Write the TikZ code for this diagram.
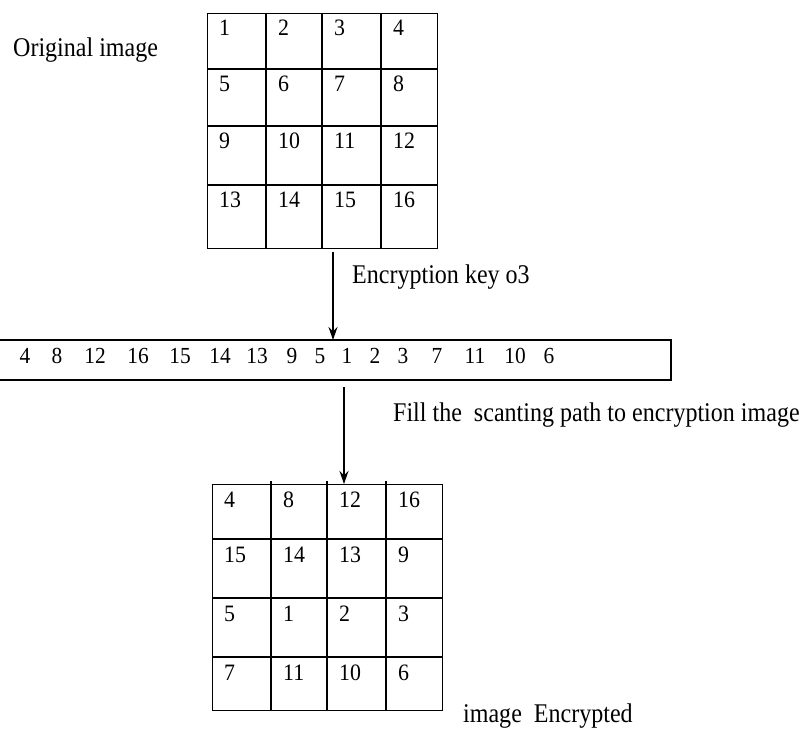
\documentclass[tikz,border=0pt]{standalone}
\usepackage{fontspec}
\setmainfont{Liberation Serif}
\newfontfamily\lblfont[FakeStretch=0.89]{Liberation Serif}
\newfontfamily\numfont[FakeStretch=0.93]{Liberation Serif}
\usetikzlibrary{arrows.meta}
\begin{document}
\begin{tikzpicture}[x=1pt,y=-1pt,
  gridline/.style={line width=1.4pt, draw=black},
  lbl/.style={anchor=base west, inner sep=0pt, font=\lblfont\fontsize{27}{30}\selectfont},
  num/.style={anchor=base west, inner sep=0pt, font=\numfont\fontsize{23.5}{28}\selectfont},
  barnum/.style={anchor=base, inner sep=0pt, font=\numfont\fontsize{23}{28}\selectfont},
  arr/.style={line width=1.3pt, -{Stealth[length=13pt,width=9pt]}}]
\useasboundingbox (0,0) rectangle (806,729);

% ---- top grid (original image)
\node[gridline, rectangle, minimum width=230pt, minimum height=235pt, inner sep=0pt, anchor=north west] (g1) at (207,13) {};
\foreach \x in {266,322,381} \draw[gridline] (\x,13) -- (\x,248);
\foreach \y in {69,126,185} \draw[gridline] (207,\y) -- (437,\y);
\foreach \r/\y in {0/13,1/69,2/126,3/185}{
  \foreach \c/\x in {0/207,1/266,2/322,3/381}{
    \pgfmathtruncatemacro{\n}{4*\r+\c+1}
    \node[num] (t\n) at (\x+12,\y+22) {\n};
  }
}

% ---- scanning bar
\coordinate (barTL) at (0,340);
\coordinate (barTR) at (671,340);
\coordinate (barBR) at (671,380);
\coordinate (barBL) at (0,380);
\draw[gridline] (barTL) -- (barTR) -- (barBR) -- (barBL);
\foreach \v/\x [count=\i] in {4/25,8/57,12/95,16/138,15/180,14/220,13/257,9/292,5/320,1/347,2/375,3/403,7/437,11/475,10/515,6/549}{
  \node[barnum] (b\i) at (\x,363) {\v};
}

% ---- bottom grid (encrypted image)
\node[gridline, rectangle, minimum width=230pt, minimum height=226pt, inner sep=0pt, anchor=north west] (g2) at (212,484) {};
\foreach \x in {271,327,386} \draw[gridline] (\x,481) -- (\x,710);
\foreach \y in {539,598,657} \draw[gridline] (212,\y) -- (442,\y);
\foreach \v/\xx/\yy [count=\i] in {4/212/484,8/271/484,12/327/484,16/386/484,
  15/212/539,14/271/539,13/327/539,9/386/539,
  5/212/598,1/271/598,2/327/598,3/386/598,
  7/212/657,11/271/657,10/327/657,6/386/657}{
  \node[num] (e\i) at (\xx+12,\yy+23) {\v};
}

% ---- arrows
\coordinate (a1) at (333,252);
\coordinate (a2) at (344,387);
\draw[arr] (a1) -- (a1 |- barTL);
\draw[arr] (a2) -- (a2 |- g2.north);

% ---- labels
\node[lbl] (lorig) at (13,56) {Original image};
\node[lbl] (lkey) at (352,283) {Encryption key o3};
\node[lbl] (lfill) at (393,421) {Fill the~ scanting path to encryption image};
\node[lbl] (lenc) at (463,722) {image~ Encrypted};
\end{tikzpicture}
\end{document}
